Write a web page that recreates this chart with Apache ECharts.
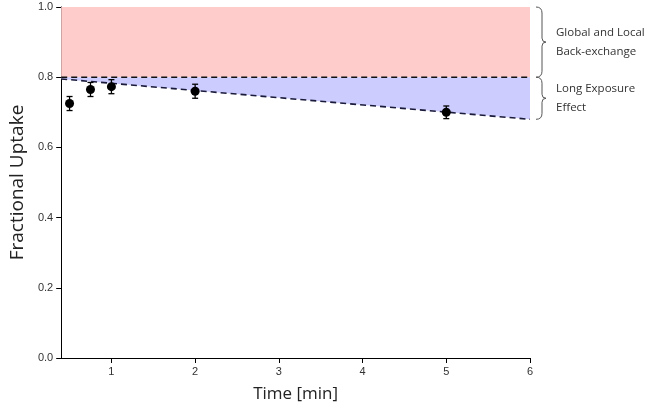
<!DOCTYPE html><html><head><meta charset="utf-8"><script src="https://cdn.jsdelivr.net/npm/echarts@6/dist/echarts.min.js"></script></head><body style="margin:0"><div id="c" style="width:666px;height:408px"></div><script>
const times=[0.5,0.75,1,2,5];
const uptake=[0.725,0.765,0.773,0.76,0.70];
const errs=[0.02,0.02,0.02,0.02,0.018];
const lineX=[0.4,6];
const lineY=[0.795,0.68];
const plateau=0.8;
const topY=1.0;
const xTicks=[1,2,3,4,5,6];
const braces=[{lo:0.8,hi:1.0,text:['Global and Local','Back-exchange']},{lo:0.68,hi:0.8,text:['Long Exposure','Effect']}];
const ch=echarts.init(document.getElementById('c'));
const ax={lineStyle:{color:'#000'}};
ch.setOption({animation:false,
grid:{left:57,right:136,top:7,bottom:18,containLabel:false},
xAxis:{type:'value',min:0.4,max:6,name:'Time [min]',nameLocation:'middle',nameGap:28,nameTextStyle:{fontSize:17,color:'#222',fontFamily:'Open Sans'},
 axisLine:ax,axisTick:{show:true,customValues:xTicks,lineStyle:{color:'#000'}},axisLabel:{customValues:xTicks,color:'#333',fontSize:11},splitLine:{show:false}},
yAxis:{type:'value',min:0,max:1,interval:0.2,name:'Fractional Uptake',nameLocation:'middle',nameGap:30,nameTextStyle:{fontSize:19,color:'#222',fontFamily:'Open Sans'},
 axisLine:{show:true,lineStyle:{color:'#000'}},axisTick:{show:true,lineStyle:{color:'#000'}},axisLabel:{formatter:v=>v.toFixed(1),color:'#333',fontSize:11},splitLine:{show:false}},
series:[
{type:'custom',data:[[0]],z:1,renderItem:(p,api)=>{
 const a0=api.coord([lineX[0],topY]),a1=api.coord([lineX[1],topY]),p0=api.coord([lineX[0],plateau]),p1=api.coord([lineX[1],plateau]),l0=api.coord([lineX[0],lineY[0]]),l1=api.coord([lineX[1],lineY[1]]);
 return {type:'group',children:[
  {type:'polygon',shape:{points:[a0,a1,p1,p0]},style:{fill:'#ffcccc'}},
  {type:'polygon',shape:{points:[p0,p1,l1,l0]},style:{fill:'#ccccff'}}]};}},
{type:'line',data:lineX.map((x,i)=>[x,lineY[i]]),symbol:'none',lineStyle:{color:'#1a1a3a',type:[6,4],width:1.6},z:5},
{type:'line',data:lineX.map(x=>[x,plateau]),symbol:'none',lineStyle:{color:'#111',type:[6,4],width:1.6},z:5},
{type:'custom',data:times.map((t,i)=>[t,uptake[i],errs[i]]),z:6,renderItem:(p,api)=>{
 const x=api.value(0),y=api.value(1),e=api.value(2);const a=api.coord([x,y+e]),b=api.coord([x,y-e]),c=api.coord([x,y]);
 const s={stroke:'#000',lineWidth:1.3};
 return {type:'group',children:[{type:'line',shape:{x1:a[0],y1:a[1],x2:b[0],y2:b[1]},style:s},{type:'line',shape:{x1:a[0]-3,y1:a[1],x2:a[0]+3,y2:a[1]},style:s},{type:'line',shape:{x1:b[0]-3,y1:b[1],x2:b[0]+3,y2:b[1]},style:s},{type:'circle',shape:{cx:c[0],cy:c[1],r:4.5},style:{fill:'#000'}}]};}},
{type:'custom',data:braces.map((b,i)=>[6,b.lo,b.hi,i]),z:6,clip:false,renderItem:(p,api)=>{
 const lo=api.coord([api.value(0),api.value(1)]),hi=api.coord([api.value(0),api.value(2)]);const i=api.value(3);
 const x0=lo[0]+6,xm=x0+8,m=(lo[1]+hi[1])/2;
 const d=`M${x0} ${hi[1]} Q${x0+6} ${hi[1]} ${x0+6} ${hi[1]+6} L${x0+6} ${m-4} Q${x0+6} ${m} ${xm+2} ${m} Q${x0+6} ${m} ${x0+6} ${m+4} L${x0+6} ${lo[1]-6} Q${x0+6} ${lo[1]} ${x0} ${lo[1]}`;
 return {type:'group',children:[{type:'path',shape:{pathData:d},style:{stroke:'#555',fill:'none',lineWidth:1}},{type:'text',style:{x:xm+12,y:m,text:braces[i].text.join('\n'),fill:'#333',fontSize:11.5,lineHeight:19,fontFamily:'Open Sans',verticalAlign:'middle'}}]};}}
]});
</script></body></html>
